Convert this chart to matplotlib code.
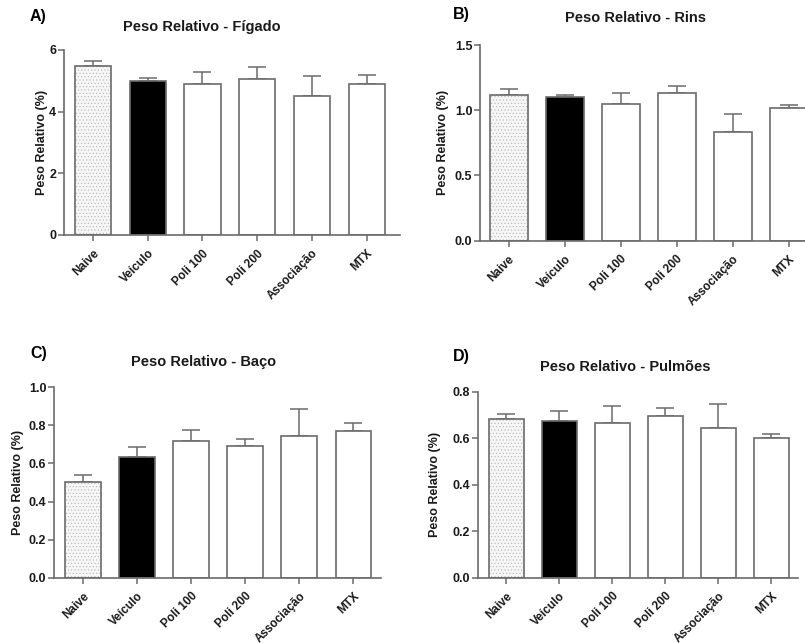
import matplotlib
matplotlib.use("Agg")
import matplotlib.pyplot as plt
import numpy as np

plt.rcParams['font.family'] = ['Liberation Sans', 'DejaVu Sans']
plt.rcParams['font.weight'] = 'bold'
plt.rcParams['hatch.linewidth'] = 0.4

categories = ["Naive", "Veículo", "Poli 100", "Poli 200", "Associação", "MTX"]

figado_mean = [5.49, 4.98, 4.89, 5.06, 4.50, 4.89]
figado_err = [0.16, 0.10, 0.41, 0.39, 0.66, 0.31]

rins_mean = [1.12, 1.10, 1.05, 1.13, 0.836, 1.02]
rins_err = [0.04, 0.02, 0.085, 0.055, 0.135, 0.02]

baco_mean = [0.503, 0.636, 0.720, 0.693, 0.745, 0.770]
baco_err = [0.034, 0.048, 0.057, 0.037, 0.142, 0.045]

pulmoes_mean = [0.681, 0.674, 0.665, 0.694, 0.643, 0.600]
pulmoes_err = [0.022, 0.044, 0.073, 0.037, 0.104, 0.019]

W, H = 805, 643
fig = plt.figure(figsize=(W / 100, H / 100), dpi=100)

GRAY = '#6b6b6b'
TXT = '#1a1a1a'


def fx(px):
    return px / W


def fy(py):
    return 1 - py / H


panels = [
    dict(letter="A)", title="Peso Relativo - Fígado", mean=figado_mean, err=figado_err,
         box=(64, 50, 400, 235), xlim=(-0.53, 5.61), ylim=(0, 6), yticks=[0, 2, 4, 6],
         yfmt="{:.0f}", width=0.66, letter_xy=(30, 17), title_xy=(202, 27), ylab_x=42),
    dict(letter="B)", title="Peso Relativo - Rins", mean=rins_mean, err=rins_err,
         box=(480, 45, 823, 240.7), xlim=(-0.51, 5.61), ylim=(0, 1.5), yticks=[0, 0.5, 1.0, 1.5],
         yfmt="{:.1f}", width=0.68, letter_xy=(453, 15), title_xy=(635, 18), ylab_x=443),
    dict(letter="C)", title="Peso Relativo - Baço", mean=baco_mean, err=baco_err,
         box=(54, 387.3, 381, 577.7), xlim=(-0.53, 5.51), ylim=(0, 1.0), yticks=[0, 0.2, 0.4, 0.6, 0.8, 1.0],
         yfmt="{:.1f}", width=0.66, letter_xy=(30, 353), title_xy=(204, 362), ylab_x=18),
    dict(letter="D)", title="Peso Relativo - Pulmões", mean=pulmoes_mean, err=pulmoes_err,
         box=(477.7, 391.7, 798, 577.7), xlim=(-0.54, 5.5), ylim=(0, 0.8), yticks=[0, 0.2, 0.4, 0.6, 0.8],
         yfmt="{:.1f}", width=0.66, letter_xy=(453, 357), title_xy=(625, 367), ylab_x=435),
]

for p in panels:
    l, t, r, b = p['box']
    ax = fig.add_axes([fx(l), fy(b), fx(r) - fx(l), fy(t) - fy(b)])
    x = np.arange(len(categories))
    faces = ['#f4f4f4', 'black', 'white', 'white', 'white', 'white']
    # error bars (upper only)
    ax.errorbar(x, p['mean'], yerr=[np.zeros(len(x)), p['err']], fmt='none',
                ecolor=GRAY, elinewidth=1.1, capsize=6.5, capthick=1.1, zorder=1)
    # dotted fill for Naive
    ax.bar(x[:1], p['mean'][:1], width=p['width'], color='#f6f6f6', edgecolor='#b5b5b5',
           hatch='.....', linewidth=0, zorder=2)
    ax.bar(x[1:], p['mean'][1:], width=p['width'], color=faces[1:], edgecolor='none', zorder=2)
    ax.bar(x, p['mean'], width=p['width'], color='none', edgecolor=GRAY, linewidth=1.2, zorder=3)

    ax.set_xlim(*p['xlim'])
    ax.set_ylim(*p['ylim'])
    ax.set_yticks(p['yticks'])
    ax.set_yticklabels([p['yfmt'].format(v) for v in p['yticks']], fontsize=9, fontweight='bold', color=TXT)
    ax.set_xticks(x)
    ax.set_xticklabels(categories, rotation=45, ha='right', va='top', rotation_mode='anchor',
                       fontsize=8.5, fontweight='bold', color=TXT)
    ax.tick_params(axis='x', length=4, width=1.1, color=GRAY, pad=5)
    ax.tick_params(axis='y', length=4, width=1.1, color=GRAY, pad=1.5)
    for s in ['top', 'right']:
        ax.spines[s].set_visible(False)
    for s in ['left', 'bottom']:
        ax.spines[s].set_color(GRAY)
        ax.spines[s].set_linewidth(1.2)

    ax.set_ylabel("Peso Relativo (%)", fontsize=9, fontweight='bold', color=TXT)
    lab_ax = (p['ylab_x'] + 6 - l) / (r - l)
    ax.yaxis.set_label_coords(lab_ax, 0.5)

    fig.text(fx(p['letter_xy'][0]), fy(p['letter_xy'][1]), p['letter'], fontsize=11.5,
             fontweight='bold', ha='left', va='center', color='black')
    fig.text(fx(p['title_xy'][0]), fy(p['title_xy'][1]), p['title'], fontsize=10.5,
             fontweight='bold', ha='center', va='center', color=TXT)

fig.savefig("out.png", dpi=100, facecolor='white')
